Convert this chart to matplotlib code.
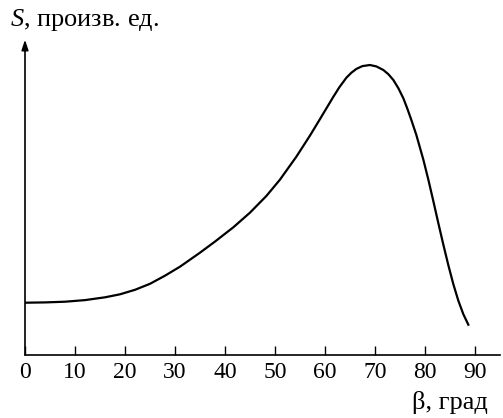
import matplotlib
matplotlib.use("Agg")
import matplotlib.pyplot as plt

# angle (degrees) and signal S (arbitrary units)
beta = [0, 4, 8, 12, 16, 19, 22, 25, 28, 31, 35, 38, 41.7, 45, 48.3, 51,
        54.3, 57, 59, 61.7, 62.9, 64.3, 65.3, 66.3, 67.5, 69, 70.3, 71.7,
        72.7, 73.7, 74.7, 75.7, 76.5, 77.3, 78.3, 79.7, 80.7, 81.7, 82.7,
        83.7, 84.7, 85.7, 86.7, 87.7, 88.7]
signal = [52, 52.3, 53, 54.6, 57.4, 60.4, 64.9, 70.9, 79, 88, 102, 113.1,
          127.5, 142, 158.8, 175, 198.1, 219, 235.5, 258, 267.5, 277, 282,
          285.8, 288.6, 289.7, 288.3, 284.7, 280.5, 274.7, 266.5, 256.4,
          246, 234.7, 219.7, 195, 175, 153.5, 131.5, 110, 89.5, 70.5, 54,
          40.5, 30]
xticks = [0, 10, 20, 30, 40, 50, 60, 70, 80, 90]

plt.rcParams['font.family'] = ['Liberation Serif', 'DejaVu Serif']
plt.rcParams['mathtext.fontset'] = 'custom'
plt.rcParams['mathtext.it'] = 'Liberation Serif:italic'
plt.rcParams['mathtext.rm'] = 'Liberation Serif'

fig = plt.figure(figsize=(5.03, 4.18), dpi=100)
ax = fig.add_axes([0.0497, 0.1514, 0.944, 0.7536])

ax.plot(beta, signal, color='black', lw=1.6, solid_joinstyle='round')

ax.set_xlim(0, 95)
ax.set_ylim(0, 315)
ax.set_xticks(xticks)
ax.set_xticklabels([str(t) for t in xticks], fontsize=17)
ax.set_yticks([])
ax.tick_params(axis='x', direction='in', length=6.5, width=1, pad=5)

for side in ['top', 'right', 'left']:
    ax.spines[side].set_visible(False)
ax.spines['bottom'].set_linewidth(1.2)

# y axis with arrow
ax.annotate('', xy=(0, 1), xytext=(0, 0), xycoords='axes fraction',
            arrowprops=dict(arrowstyle='-|>,head_length=0.6,head_width=0.2',
                            color='black', lw=1.2, shrinkA=0, shrinkB=0))

fig.text(10 / 503, 1 - 20 / 418, r'$S$, произв. ед.', fontsize=19,
         ha='left', va='center')
fig.text(488 / 503, 1 - 403 / 418, 'β, град', fontsize=19,
         ha='right', va='center')

fig.savefig('out.png', dpi=100)
